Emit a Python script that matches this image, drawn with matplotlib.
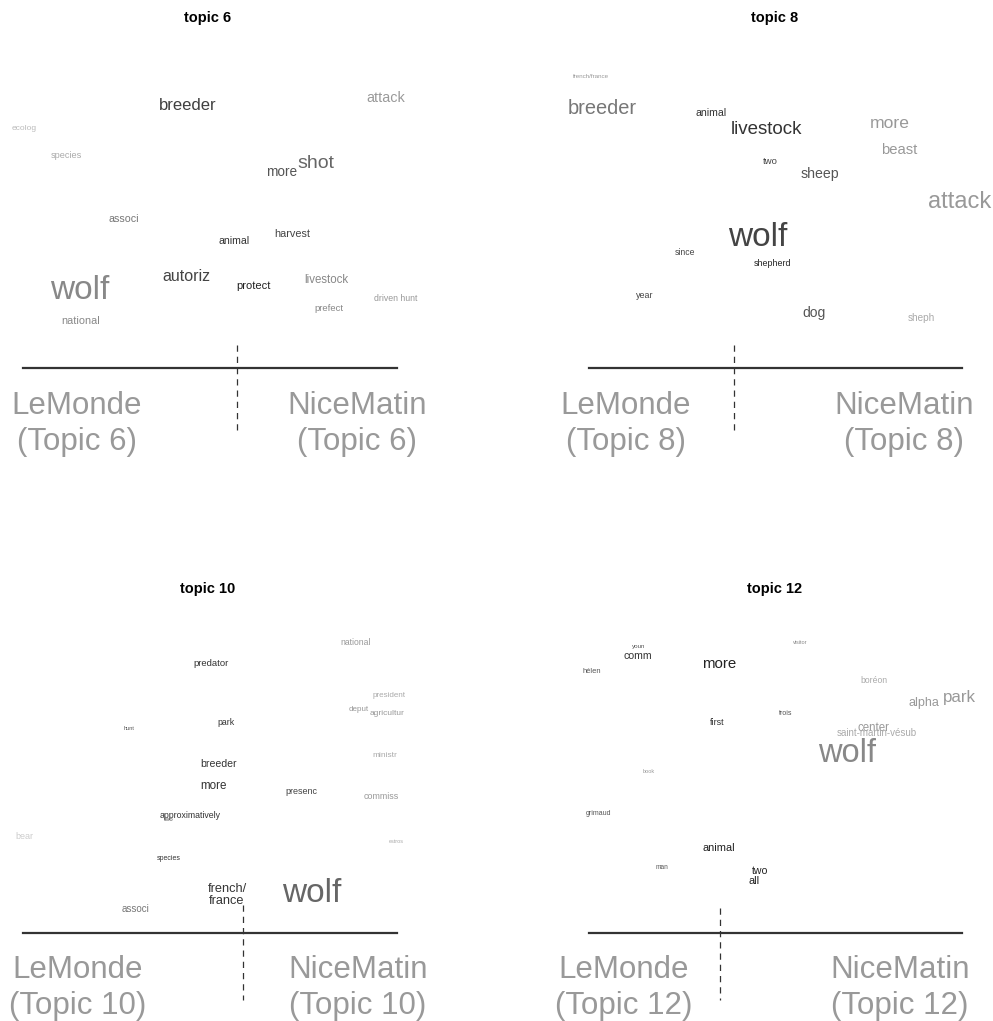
import matplotlib.pyplot as plt

plt.rcParams['font.family'] = ['Liberation Sans', 'DejaVu Sans']

W, H = 993, 1021

topics = [6, 8, 10, 12]

# topic 6
words6 = ['breeder', 'attack', 'ecolog', 'species', 'more', 'shot', 'associ', 'animal',
          'harvest', 'autoriz', 'protect', 'livestock', 'driven hunt', 'prefect', 'wolf', 'national']
x6 = [188, 386, 24, 66, 282, 316, 124, 234, 292, 186, 253, 326, 396, 329, 80, 81]
y6 = [106, 98, 128, 155, 172, 163, 219, 241, 234, 276, 286, 280, 298, 308, 290, 321]
size6 = [12, 10.4, 6, 6.6, 9.8, 14, 7.7, 7.6, 7.8, 11.5, 8, 8.3, 6.3, 6.8, 24, 7.8]
grey6 = ['#404040', '#9a9a9a', '#bbbbbb', '#aaaaaa', '#555555', '#666666', '#777777', '#333333',
         '#444444', '#444444', '#222222', '#888888', '#999999', '#888888', '#888888', '#888888']

# topic 8
words8 = ['french/france', 'breeder', 'animal', 'livestock', 'more', 'beast', 'two', 'sheep',
          'attack', 'wolf', 'since', 'shepherd', 'year', 'dog', 'sheph']
x8 = [591, 602, 711, 767, 890, 899, 770, 820, 960, 758, 685, 772, 645, 814, 921]
y8 = [77, 108, 113, 130, 124, 150, 162, 174, 202, 237, 252, 263, 295, 313, 318]
size8 = [4.5, 14.4, 7.6, 13.5, 12.6, 10.6, 6.8, 10.2, 17, 24, 6.2, 6.4, 6.4, 10, 7.2]
grey8 = ['#999999', '#777777', '#333333', '#333333', '#999999', '#999999', '#444444', '#555555',
         '#999999', '#444444', '#444444', '#222222', '#444444', '#555555', '#aaaaaa']

# topic 10
words10 = ['national', 'predator', 'president', 'deput', 'agricultur', 'hunt', 'park', 'ministr',
           'breeder', 'more', 'presenc', 'commiss', 'approximatively', 'two', 'bear', 'estros',
           'species', 'french/\nfrance', 'wolf', 'associ']
x10 = [356, 211, 389, 359, 387, 129, 226, 385, 219, 214, 301, 381, 190, 169, 24, 396, 169, 227, 312, 136]
y10 = [642, 663, 695, 709, 713, 728, 722, 755, 764, 786, 791, 796, 815, 819, 836, 841, 858, 895, 893, 909]
size10 = [6.2, 6.8, 5.8, 5.8, 6, 4, 6.3, 6, 7.6, 8.4, 6.5, 6.4, 6.3, 4.5, 6.5, 4, 5, 9.2, 24, 7]
grey10 = ['#999999', '#333333', '#aaaaaa', '#999999', '#999999', '#555555', '#333333', '#aaaaaa',
          '#333333', '#333333', '#444444', '#999999', '#333333', '#555555', '#cccccc', '#aaaaaa',
          '#333333', '#333333', '#666666', '#777777']

# topic 12
words12 = ['youn', 'comm', 'hélen', 'more', 'visitor', 'boréon', 'alpha', 'park', 'trois', 'first',
           'center', 'saint-martin-vésub', 'wolf', 'book', 'grimaud', 'animal', 'man', 'two', 'all']
x12 = [639, 638, 592, 719, 800, 874, 924, 959, 786, 717, 874, 877, 847, 649, 598, 719, 662, 760, 754]
y12 = [646, 656, 671, 664, 642, 680, 703, 697, 713, 722, 728, 733, 753, 771, 813, 848, 867, 871, 881]
size12 = [4.5, 7.6, 5.4, 10.8, 4, 6.2, 9, 12.2, 5, 6.5, 8.3, 7, 23.5, 4, 5, 7.9, 4.7, 7.6, 7.9]
grey12 = ['#555555', '#333333', '#555555', '#222222', '#888888', '#aaaaaa', '#999999', '#999999',
          '#555555', '#333333', '#999999', '#aaaaaa', '#888888', '#999999', '#555555', '#222222',
          '#555555', '#222222', '#222222']

panels = [
    (words6, x6, y6, size6, grey6),
    (words8, x8, y8, size8, grey8),
    (words10, x10, y10, size10, grey10),
    (words12, x12, y12, size12, grey12),
]

# frame of every panel
boxes = [(0, 0, 496.5, 510.5), (496.5, 0, 993, 510.5), (0, 510.5, 496.5, 1021), (496.5, 510.5, 993, 1021)]
title_x = [208, 775, 208, 775]
title_y = [18, 18, 589, 589]
rule_y = [368, 368, 933, 933]
rule_x0 = [23, 589, 23, 589]
rule_x1 = [397, 962, 397, 962]
split_x = [237, 734, 243, 720]
split_y0 = [345, 345, 905, 908]
split_y1 = [435, 435, 1000, 1000]
left_x = [77, 626, 78, 624]
right_x = [357, 904, 358, 900]
label_y = [424, 424, 988, 988]

fig = plt.figure(figsize=(W / 100, H / 100), dpi=100)
fig.patch.set_facecolor('white')

for i, (words, xs, ys, sizes, greys) in enumerate(panels):
    x0, y0, x1, y1 = boxes[i]
    ax = fig.add_axes([x0 / W, 1 - y1 / H, (x1 - x0) / W, (y1 - y0) / H])
    ax.set_xlim(x0, x1)
    ax.set_ylim(y1, y0)
    ax.axis('off')

    for w, x, y, s, c in zip(words, xs, ys, sizes, greys):
        ax.text(x, y, w, fontsize=s, color=c, ha='center', va='center',
                linespacing=1.1, clip_on=False)

    ax.text(title_x[i], title_y[i], 'topic %d' % topics[i], fontweight='bold',
            fontsize=10.5, ha='center', va='center')

    ax.plot([rule_x0[i], rule_x1[i]], [rule_y[i], rule_y[i]], color='#333333', lw=1.6)
    ax.plot([split_x[i], split_x[i]], [split_y0[i], split_y1[i]], color='#333333', lw=0.9,
            linestyle=(0, (5, 4)))

    ax.text(left_x[i], label_y[i], 'LeMonde\n(Topic %d)' % topics[i],
            fontsize=22.5, color='#999999', ha='center', va='center', linespacing=1.23)
    ax.text(right_x[i], label_y[i], 'NiceMatin\n(Topic %d)' % topics[i],
            fontsize=22.5, color='#999999', ha='center', va='center', linespacing=1.23)

fig.savefig('out.png', dpi=100, facecolor='white')
